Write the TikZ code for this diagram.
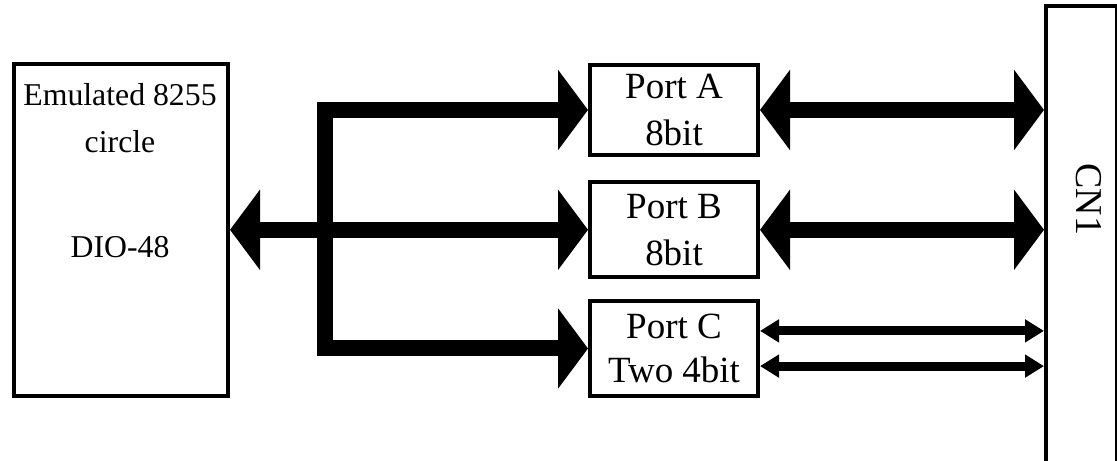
\documentclass[tikz,border=0pt]{standalone}
\usepackage{fontspec}
\setmainfont{Liberation Serif}
\usepackage{tikz}
\usetikzlibrary{arrows.meta, positioning, calc}
\tikzstyle{block} = [draw, line width=2.85pt, inner sep=0pt, align=center]
\tikzstyle{bus} = [line width=0.4cm, {Triangle[length=0.75cm,width=1.975cm]}-{Triangle[length=0.75cm,width=1.975cm]}]
\tikzstyle{wire} = [line width=0.225cm, {Triangle[length=0.475cm,width=0.55cm]}-{Triangle[length=0.475cm,width=0.55cm]}]

\begin{document}
\begin{tikzpicture}
  \useasboundingbox (0,0) rectangle (27.925,11.525);
  \clip (0,0) rectangle (27.925,11.525);

  % Draw the emulated 8255 block
  \node[block, minimum width=5.35cm, minimum height=8.3cm] (emu) at (3.025, 5.78) {};
  \node[anchor=base, font=\fontsize{22.6}{30}\selectfont] (emuname) at (3.0, 8.875) {Emulated 8255};
  \node[anchor=base, font=\fontsize{22.6}{30}\selectfont] (emucircle) at (3.0, 7.7) {circle};
  \node[anchor=base, font=\fontsize{22.6}{30}\selectfont] (emudio) at (3.0, 5.075) {DIO-48};

  % Draw ports A, B and C
  \node[block, minimum width=4.2cm, minimum height=2.25cm, font=\fontsize{26.3}{33.4}\selectfont] (portA) at (16.85, 8.775) {Port A\\8bit};
  \node[block, minimum width=4.2cm, minimum height=2.375cm, font=\fontsize{26.3}{33.4}\selectfont] (portB) at (16.85, 5.78) {Port B\\8bit};
  \node[block, minimum width=4.2cm, minimum height=2.375cm, font=\fontsize{26.3}{31}\selectfont] (portC) at (16.85, 2.8125) {Port C\\Two 4bit};

  % Draw connector CN1
  \node[block, minimum width=1.775cm, minimum height=11.875cm] (cn) at (27.0375, 5.4375) {};
  \node[rotate=-90, font=\fontsize{27}{30}\selectfont] (cnname) at (27.225, 6.5375) {CN1};

  % Draw the internal bus
  \coordinate (split) at (8.125, 5.78);
  \draw[bus] (portA.west) -- (portA.west -| split) -- (portC.west -| split) -- (portC.west);
  \draw[bus] (emu.east) -- (portB.west);

  % Draw the lines to CN1
  \draw[bus] (portA.east) -- (portA.east -| cn.west);
  \draw[bus] (portB.east) -- (portB.east -| cn.west);
  \coordinate (cup) at ($(portC.east)+(0,0.44)$);
  \coordinate (clow) at ($(portC.east)+(0,-0.44)$);
  \draw[wire] (cup) -- (cup -| cn.west);
  \draw[wire] (clow) -- (clow -| cn.west);
\end{tikzpicture}
\end{document}
